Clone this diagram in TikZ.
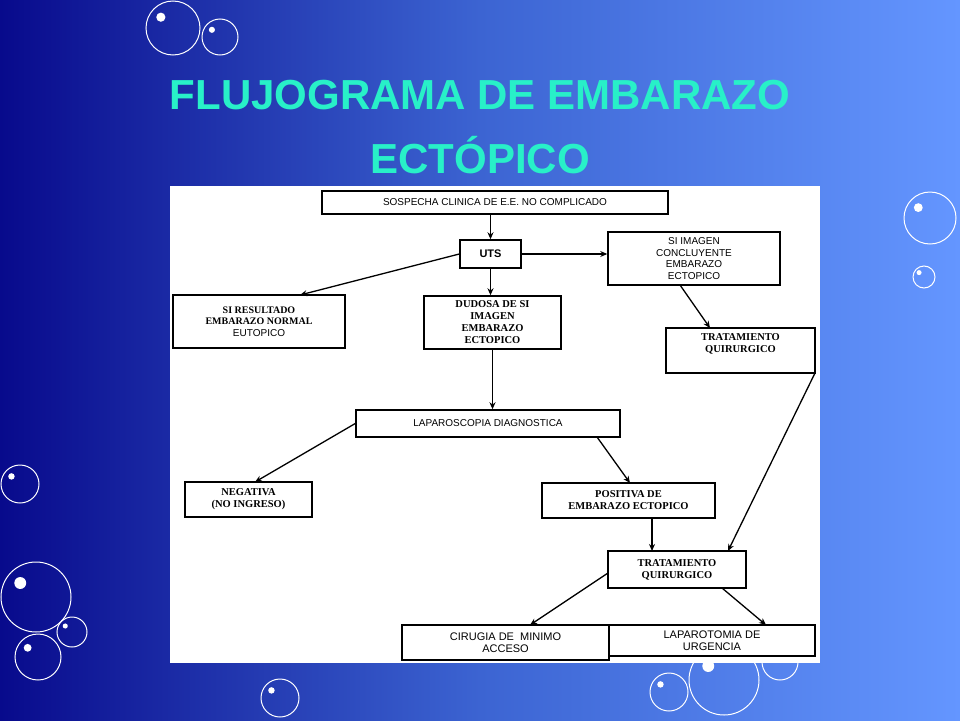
\documentclass[tikz,border=0pt]{standalone}
\usepackage{fontspec}
\setmainfont{Liberation Sans}
\newfontfamily\serifb{Liberation Serif}
\usetikzlibrary{arrows.meta,calc}
\definecolor{bgl}{RGB}{8,10,140}
\definecolor{bgm}{RGB}{60,100,210}
\definecolor{bgr}{RGB}{100,150,255}
\definecolor{ttl}{RGB}{40,240,200}
\tikzset{
 bx/.style={draw=black,line width=1.5pt,fill=white,align=center,font=\fontsize{10}{11.5}\selectfont,inner sep=0pt},
 bxs/.style={bx,font=\serifb\bfseries\fontsize{10.5}{12}\selectfont},
 ar/.style={-{Stealth[length=7pt,width=6pt]},line width=1.3pt},
 bub/.style={draw=white,line width=1pt},
}
\newcommand{\bubble}[3]{\draw[bub] (#1,#2) circle (#3);
 \fill[white] ($(#1,#2)+(-0.45*#3,-0.4*#3)$) circle ({max(2.5,0.17*#3)});}
\begin{document}
\begin{tikzpicture}[x=1pt,y=-1pt]
\useasboundingbox (0,0) rectangle (960,720);
\shade[left color=bgl,right color=bgr,middle color=bgm] (0,0) rectangle (960,720);
\bubble{173}{28}{27}\bubble{220}{37}{18}\bubble{930}{218}{26}\bubble{924}{277}{11}
\bubble{20}{484}{19}\bubble{36}{597}{35}\bubble{72}{632}{15}\bubble{38}{657}{23}
\bubble{280}{698}{19}\bubble{669}{692}{19}\bubble{724}{680}{35}\bubble{780}{662}{18}
\node[text=ttl,font=\bfseries\fontsize{42}{46}\selectfont] (t1) at (480,95) {FLUJOGRAMA DE EMBARAZO};
\node[text=ttl,font=\bfseries\fontsize{42}{46}\selectfont] (t2) at (480,155) {ECTÓPICO};
\fill[white] (170,186) rectangle (820,663);
\node[bx,minimum width=346,minimum height=23] (sos) at (495,202.5) {SOSPECHA CLINICA DE E.E. NO COMPLICADO};
\node[bx,font=\bfseries\fontsize{11}{12}\selectfont,minimum width=61,minimum height=28] (uts) at (490.5,254) {UTS};
\node[bx,minimum width=172,minimum height=53] (sii) at (694,258.5) {SI IMAGEN\\CONCLUYENTE\\EMBARAZO\\ECTOPICO};
\node[bx,minimum width=172,minimum height=53] (sir) at (259,321.5) {{\serifb\bfseries SI RESULTADO}\\{\serifb\bfseries EMBARAZO NORMAL}\\EUTOPICO};
\node[bxs,minimum width=137,minimum height=53] (dud) at (492.5,322.5) {DUDOSA DE SI\\IMAGEN\\EMBARAZO\\ECTOPICO};
\node[bx,minimum width=149,minimum height=45] (tq1) at (740.5,350.5) {};
\node[font=\serifb\bfseries\fontsize{10.5}{12}\selectfont,align=center,anchor=north,inner sep=0pt] (tq1t) at (740.5,333) {TRATAMIENTO\\QUIRURGICO};
\node[bx,minimum width=264,minimum height=27] (lap) at (488,423.5) {LAPAROSCOPIA DIAGNOSTICA};
\node[bxs,minimum width=127,minimum height=35] (neg) at (248.5,499.5) {NEGATIVA\\(NO INGRESO)};
\node[bxs,minimum width=173,minimum height=35] (pos) at (628.5,500.5) {POSITIVA DE\\EMBARAZO ECTOPICO};
\node[bxs,minimum width=138,minimum height=37] (tq2) at (677,569.5) {TRATAMIENTO\\QUIRURGICO};
\node[bx,font=\fontsize{11}{12.5}\selectfont,minimum width=207,minimum height=35] (cir) at (505.5,642.5) {CIRUGIA DE \ MINIMO\\ACCESO};
\node[bx,font=\fontsize{11}{12.5}\selectfont,minimum width=206,minimum height=31] (lpt) at (712,640.5) {LAPAROTOMIA DE\\URGENCIA};
\draw[ar] (sos.south -| uts) -- (uts.north);
\draw[ar] (uts.west) -- (300,295);
\draw[ar] (uts.south) -- (uts.south |- dud.north);
\draw[ar] (uts.east) -- (sii.west |- uts.east);
\draw[ar] (680,285) -- (710,328);
\draw[ar] (815,373) -- (728,551);
\draw[ar] (dud.south) -- (dud.south |- lap.north);
\draw[ar] (lap.west) -- (255,482);
\draw[ar] (597,437) -- (630,483);
\draw[ar] (652,518) -- (652,551);
\draw[ar] (608,573) -- (530,625);
\draw[ar] (722,588) -- (766,625);
\end{tikzpicture}
\end{document}
